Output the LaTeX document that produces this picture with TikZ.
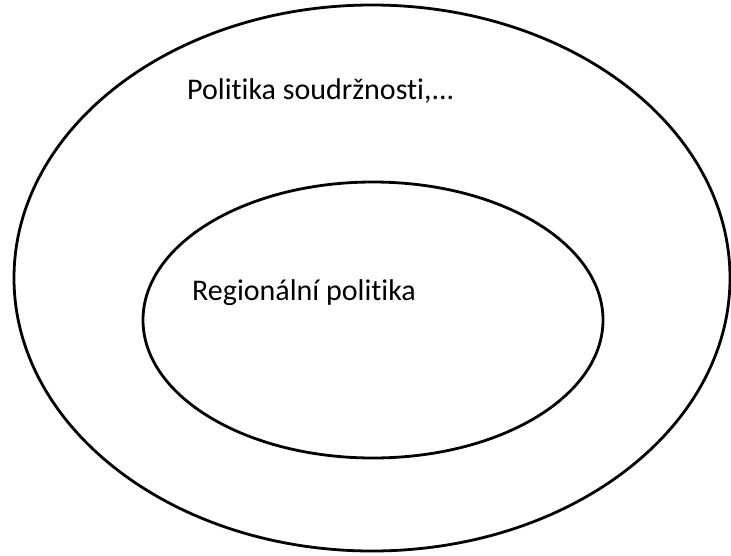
\documentclass[tikz,border=0pt]{standalone}
\usepackage{fontspec}
\setmainfont[Ligatures={NoCommon}]{Carlito}
\begin{document}
\begin{tikzpicture}[x=1pt,y=-1pt,
  ring/.style={draw=black,line width=2.8pt},
  lbl/.style={font=\fontsize{30}{36}\selectfont,anchor=base west,inner sep=0pt}]
\useasboundingbox (0,0) rectangle (731,555);
\draw[ring] (372,278) ellipse [x radius=358, y radius=273];
\draw[ring] (373,320) ellipse [x radius=230, y radius=138];
\node[lbl] (outer) at (187,99) {Politika soudržnosti,...};
\node[lbl] (inner) at (192,300) {Regionální politika};
\end{tikzpicture}
\end{document}
